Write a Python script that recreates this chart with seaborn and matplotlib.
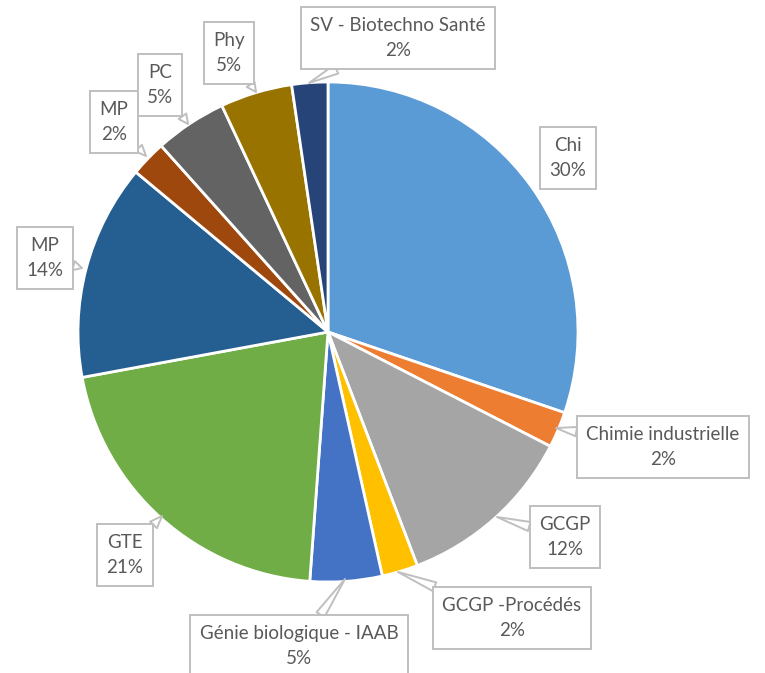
import seaborn as sns
import matplotlib.pyplot as plt

# Répartition par filière (effectifs, 43 au total)
filieres = ['Chi', 'Chimie industrielle', 'GCGP', 'GCGP -Procédés',
            'Génie biologique - IAAB', 'GTE', 'MP', 'MP', 'PC', 'Phy',
            'SV - Biotechno Santé']
effectifs = [13, 1, 5, 1, 2, 9, 6, 1, 2, 2, 1]
couleurs = ['#5B9BD5', '#ED7D31', '#A5A5A5', '#FFC000', '#4472C4', '#70AD47',
            '#255E91', '#9E480E', '#636363', '#997300', '#264478']
eclate = [0.015, 0, 0, 0, 0, 0.015, 0, 0, 0, 0, 0]

# position des étiquettes (pixels image) et pointe du callout
pos_etiquettes = [(568, 158), (663, 447), (565, 537), (512, 618), (299, 646),
                  (125, 555), (45, 258), (114, 122), (160, 85), (229, 53),
                  (398, 38)]
pointes = [None, (556, 428), (497, 517), (398, 572), (345, 579),
           (162, 516), (82, 268), (146, 156), (188, 124), (256, 92),
           (309, 83)]

sns.set_theme(style="white")
plt.rcParams['font.family'] = ['Lato', 'DejaVu Sans']

W, H = 765, 673
fig = plt.figure(figsize=(W / 100, H / 100), dpi=100)
ax = fig.add_axes([0, 0, 1, 1])

ax.pie(effectifs, colors=couleurs, startangle=90, counterclock=False,
       explode=eclate, center=(328, H - 332), radius=250,
       wedgeprops=dict(edgecolor='white', linewidth=2))

total = sum(effectifs)
for nom, n, (x, y), p in zip(filieres, effectifs, pos_etiquettes, pointes):
    txt = f"{nom}\n{round(100 * n / total)}%"
    boite = dict(boxstyle='square,pad=0.5', fc='white', ec='#BFBFBF', lw=1.4)
    if p is None:
        ax.text(x, H - y, txt, ha='center', va='center', fontsize=13.5,
                color='#595959', linespacing=1.6, bbox=boite, zorder=5)
    else:
        ax.annotate(txt, xy=(p[0], H - p[1]), xytext=(x, H - y),
                    ha='center', va='center', fontsize=13.5, color='#595959',
                    linespacing=1.6, bbox=boite, zorder=5,
                    arrowprops=dict(arrowstyle='wedge,tail_width=0.5',
                                    fc='white', ec='#BFBFBF', lw=1.4,
                                    shrinkA=0, shrinkB=0))

ax.set_xlim(0, W)
ax.set_ylim(0, H)
ax.set_aspect('equal')
ax.axis('off')
fig.savefig('out.png', dpi=100, facecolor='white')
